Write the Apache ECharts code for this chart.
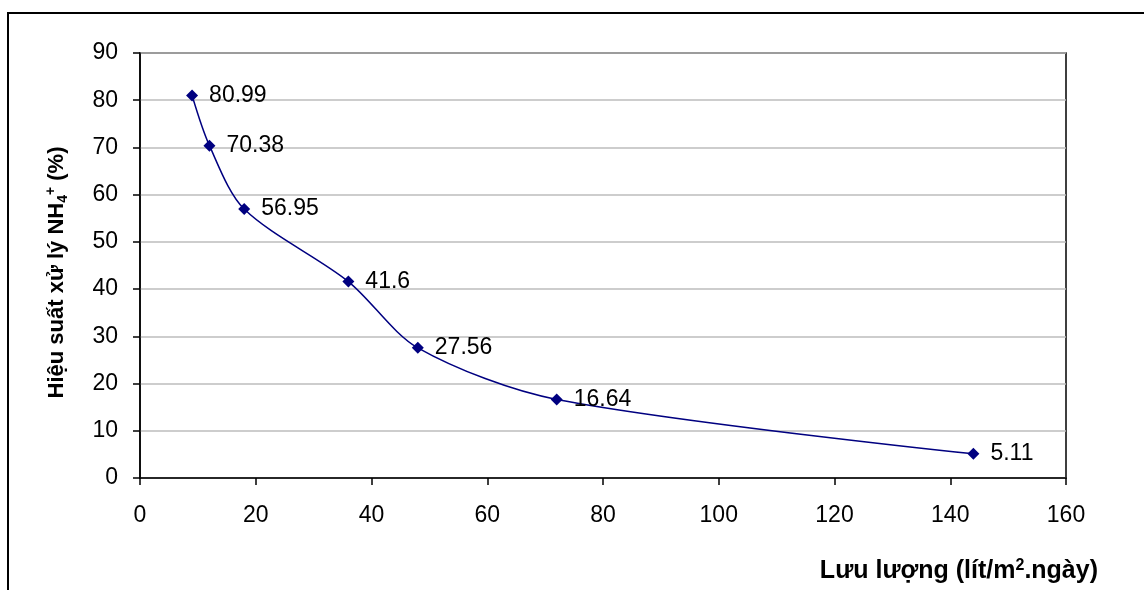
<!DOCTYPE html>
<html>
<head>
<meta charset="utf-8">
<script src="https://cdn.jsdelivr.net/npm/echarts@6/dist/echarts.min.js"></script>
<style>
  html, body { margin: 0; padding: 0; background: #fff; }
  #chart { width: 1144px; height: 590px; }
</style>
</head>
<body>
<div id="chart"></div>
<script>
// Flow rate (L/m2.day) and NH4+ removal efficiency (%)
const flowRates = [9, 12, 18, 36, 48, 72, 144];
const efficiency = [80.99, 70.38, 56.95, 41.6, 27.56, 16.64, 5.11];
const xTicks = [0, 20, 40, 60, 80, 100, 120, 140, 160];
const yTicks = [0, 10, 20, 30, 40, 50, 60, 70, 80, 90];

const FONT = '"Liberation Sans", Arial, sans-serif';
const chart = echarts.init(document.getElementById('chart'), null, { renderer: 'canvas' });

const points = flowRates.map((x, i) => [x, efficiency[i]]);

chart.setOption({
  backgroundColor: '#ffffff',
  animation: false,
  textStyle: { fontFamily: FONT },
  graphic: [{
    type: 'rect',
    shape: { x: 8, y: 13, width: 1160, height: 600 },
    style: { fill: 'none', stroke: '#000', lineWidth: 2 },
    silent: true
  }],
  grid: {
    left: 140, top: 53, right: 78, bottom: 112,
    show: true, borderColor: '#000', borderWidth: 1.5, backgroundColor: 'transparent'
  },
  xAxis: {
    type: 'value',
    min: xTicks[0], max: xTicks[xTicks.length - 1], interval: 20,
    axisLine: { lineStyle: { color: '#000', width: 1.5 } },
    axisTick: { show: true, length: 7, lineStyle: { color: '#000', width: 1.5 } },
    axisLabel: { color: '#000', fontSize: 23, margin: 26, fontFamily: FONT },
    splitLine: { show: false },
    name: 'Lưu lượng (lít/m{sup|2}.ngày)',
    nameLocation: 'end',
    nameGap: 32,
    nameTextStyle: {
      color: '#000', fontSize: 25, fontWeight: 'bold', fontFamily: FONT,
      align: 'right', verticalAlign: 'middle', padding: [186, 0, 0, 0],
      rich: {
        sup: { fontSize: 16, fontWeight: 'bold', padding: [0, 0, 11, 0], fontFamily: FONT, color: '#000' }
      }
    }
  },
  yAxis: {
    type: 'value',
    min: yTicks[0], max: yTicks[yTicks.length - 1], interval: 10,
    axisLine: { show: true, lineStyle: { color: '#000', width: 1.5 } },
    axisTick: { show: true, length: 7, lineStyle: { color: '#000', width: 1.5 } },
    axisLabel: { color: '#000', fontSize: 23, margin: 22, fontFamily: FONT },
    splitLine: { show: true, lineStyle: { color: '#bdbdbd', width: 1.5 } },
    name: 'Hiệu suất xử lý NH{sub|4}{sup|+} (%)',
    nameLocation: 'middle',
    nameGap: 70,
    nameTextStyle: {
      color: '#000', fontSize: 22, fontWeight: 'bold', fontFamily: FONT,
      padding: [0, 14, 0, 0],
      rich: {
        sub: { fontSize: 14, fontWeight: 'bold', padding: [12, 0, 0, 0], fontFamily: FONT, color: '#000' },
        sup: { fontSize: 14, fontWeight: 'bold', padding: [0, 0, 12, 0], fontFamily: FONT, color: '#000' }
      }
    }
  },
  series: [{
    type: 'line',
    data: points,
    smooth: 0.3,
    symbol: 'diamond',
    symbolSize: 12,
    lineStyle: { color: '#000080', width: 1.5 },
    itemStyle: { color: '#000080' },
    label: {
      show: true,
      position: 'right',
      distance: 11,
      color: '#000',
      fontSize: 23,
      fontFamily: FONT,
      formatter: p => String(p.value[1])
    }
  }]
});
</script>
</body>
</html>
